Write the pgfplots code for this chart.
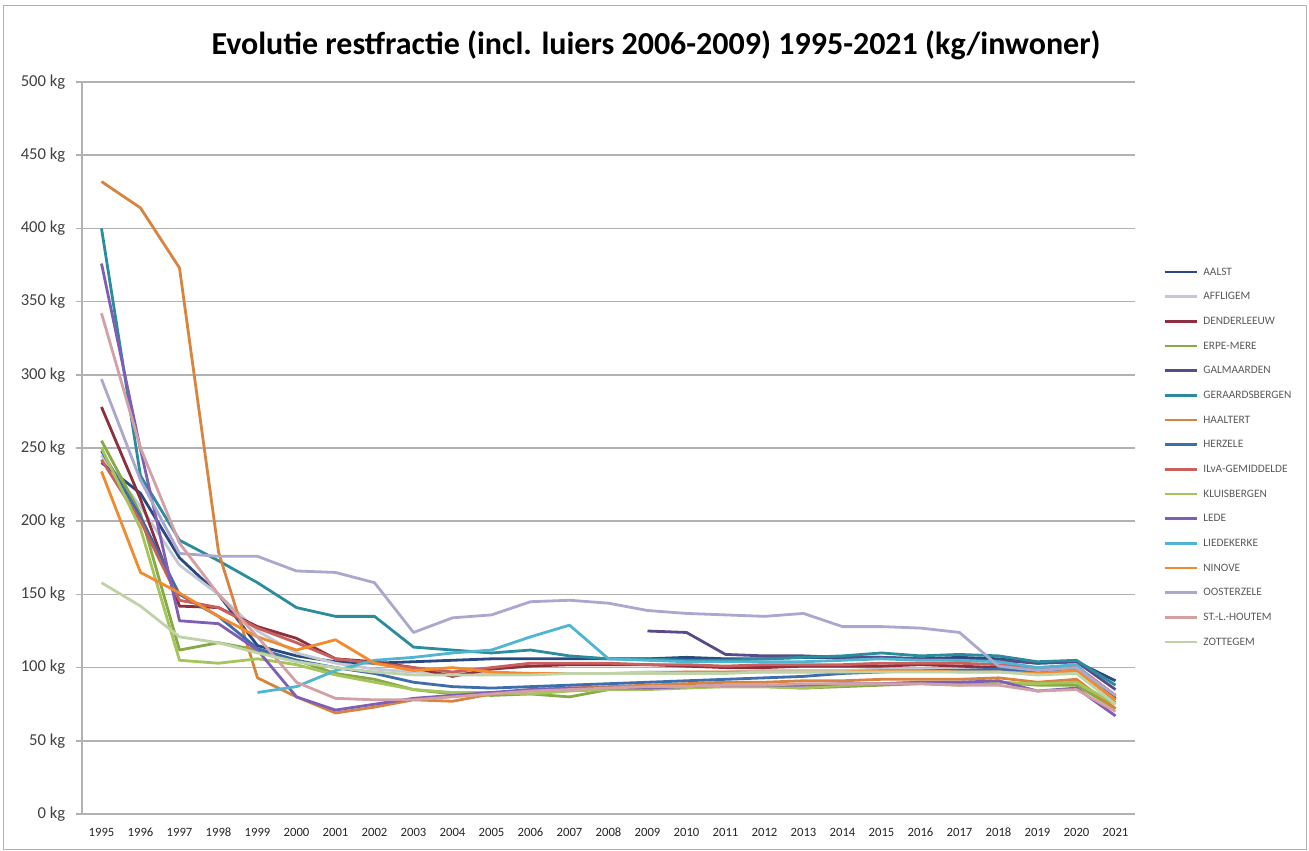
\documentclass[border=0pt]{standalone}
\usepackage{pgfplots}
\pgfplotsset{compat=1.18}
\usepackage{pgfplotstable}
\usepackage{fontspec}
\setmainfont{Carlito}

\definecolor{cA}{HTML}{2A4A7F}
\definecolor{cB}{HTML}{C3C8D2}
\definecolor{cC}{HTML}{8E2F40}
\definecolor{cD}{HTML}{86AA44}
\definecolor{cE}{HTML}{5B4A8A}
\definecolor{cF}{HTML}{2A8C9C}
\definecolor{cG}{HTML}{D8843E}
\definecolor{cH}{HTML}{3D6DAA}
\definecolor{cI}{HTML}{C9605C}
\definecolor{cJ}{HTML}{A6C45C}
\definecolor{cK}{HTML}{7E5FB5}
\definecolor{cL}{HTML}{4FB5D0}
\definecolor{cM}{HTML}{F28A2E}
\definecolor{cN}{HTML}{ABA8D0}
\definecolor{cO}{HTML}{D3A0A6}
\definecolor{cP}{HTML}{BFD2A8}

\pgfplotstableread{
year A B C D E F G H I J K L M N O P
1995 240 245 278 255 nan 400 432 248 242 250 376 nan 234 297 342 158
1996 219 210 215 205 nan 231 414 203 200 195 249 nan 165 228 250 142
1997 175 170 142 112 nan 187 373 150 146 105 132 nan 151 178 185 121
1998 150 150 141 117 nan 173 179 135 141 103 130 nan 135 176 150 117
1999 115 125 128 112 nan 158 93 113 127 106 112 83 121 176 121 110
2000 108 110 120 105 nan 141 80 105 117 102 80 87 112 166 90 104
2001 104 103 106 96 nan 135 69 100 106 95 71 98 119 165 79 100
2002 103 99 104 92 nan 135 73 96 103 90 75 105 103 158 78 97
2003 104 97 100 85 nan 114 78 90 100 85 79 107 98 124 78 95
2004 105 96 94 82 nan 112 77 87 97 83 81 110 100 134 80 95
2005 106 96 99 81 nan 110 82 86 100 83 83 112 97 136 82 95
2006 106 96 101 82 nan 112 85 87 103 82 85 121 96 145 84 95
2007 106 96 102 80 nan 108 86 88 103 84 86 129 96 146 85 96
2008 106 96 102 85 nan 106 87 89 103 85 86 106 96 144 86 96
2009 106 97 102 86 125 106 88 90 102 85 86 105 96 139 87 96
2010 107 97 101 87 124 105 89 91 102 86 87 104 97 137 87 96
2011 106 97 100 87 109 105 90 92 101 87 88 104 97 136 88 96
2012 106 98 100 87 108 106 90 93 102 87 88 104 97 135 88 97
2013 107 98 101 86 108 107 91 94 102 86 88 104 97 137 89 97
2014 107 98 101 87 107 108 91 96 102 88 89 105 97 128 89 97
2015 107 99 101 88 107 110 92 97 103 89 89 106 98 128 89 97
2016 106 99 102 89 106 108 92 98 103 90 90 105 98 127 89 97
2017 107 99 101 88 105 109 92 98 103 90 90 105 97 124 88 97
2018 106 98 100 90 105 108 93 99 102 90 91 104 97 101 88 97
2019 103 95 98 88 103 104 90 97 100 89 84 100 96 98 84 95
2020 104 98 100 88 104 105 92 98 101 90 86 102 98 100 85 96
2021 91 80 79 72 85 88 72 78 81 75 67 76 78 81 70 75
}\datatable

\begin{document}
\begin{tikzpicture}
\path[use as bounding box] (0,0) rectangle (981.75pt,637.5pt);
\draw[black!30, line width=0.75pt] (2.25pt,0.75pt) rectangle (979.5pt,633pt);
\node[font=\bfseries\fontsize{24}{28}\selectfont] at (492pt,603.75pt) {Evolutie restfractie (incl. luiers 2006-2009) 1995-2021 (kg/inwoner)};
\begin{axis}[
  at={(61.5pt,27pt)}, anchor=south west,
  width=789.75pt, height=549pt, scale only axis,
  xmin=1994.5, xmax=2021.5, ymin=0, ymax=500,
  xtick={1995,1996,1997,1998,1999,2000,2001,2002,2003,2004,2005,2006,2007,2008,2009,2010,2011,2012,2013,2014,2015,2016,2017,2018,2019,2020,2021},
  xticklabels={1995,1996,1997,1998,1999,2000,2001,2002,2003,2004,2005,2006,2007,2008,2009,2010,2011,2012,2013,2014,2015,2016,2017,2018,2019,2020,2021},
  ytick={0,50,100,150,200,250,300,350,400,450,500},
  yticklabels={0 kg,50 kg,100 kg,150 kg,200 kg,250 kg,300 kg,350 kg,400 kg,450 kg,500 kg},
  axis x line*=bottom, axis y line*=left,
  axis line style={black!30, line width=1.2pt, -},
  ymajorgrids, grid style={black!30, line width=1.2pt},
  tick align=outside, major tick length=4.5pt,
  ytick style={black!30, line width=1.2pt}, xtick style={draw=none},
  yticklabel style={font=\fontsize{12.5}{14}\selectfont, text=black!75, xshift=-4.5pt},
  xticklabel style={font=\fontsize{9.5}{11}\selectfont, text=black!85, yshift=-2.5pt},
  unbounded coords=jump,
  every axis plot/.append style={line width=2.1pt, line join=round},
  legend image code/.code={\draw[#1, line width=2.1pt] (0pt,0pt) -- (24pt,0pt);},
  legend cell align=left,
  legend style={at={(1.0266,0.4877)}, anchor=west, draw=none, fill=none, inner sep=0pt,
    font=\fontsize{8.5}{9}\selectfont, text=black!65, row sep=11pt,
    nodes={inner sep=0pt, text height=6pt, text depth=1.5pt},
    /tikz/every odd column/.append style={column sep=4pt}},
]
\addplot[cA] table[x=year,y=A]{\datatable};
\addlegendentry{AALST}
\addplot[cB] table[x=year,y=B]{\datatable};
\addlegendentry{AFFLIGEM}
\addplot[cC] table[x=year,y=C]{\datatable};
\addlegendentry{DENDERLEEUW}
\addplot[cD] table[x=year,y=D]{\datatable};
\addlegendentry{ERPE-MERE}
\addplot[cE] table[x=year,y=E]{\datatable};
\addlegendentry{GALMAARDEN}
\addplot[cF] table[x=year,y=F]{\datatable};
\addlegendentry{GERAARDSBERGEN}
\addplot[cG] table[x=year,y=G]{\datatable};
\addlegendentry{HAALTERT}
\addplot[cH] table[x=year,y=H]{\datatable};
\addlegendentry{HERZELE}
\addplot[cI] table[x=year,y=I]{\datatable};
\addlegendentry{ILvA-GEMIDDELDE}
\addplot[cJ] table[x=year,y=J]{\datatable};
\addlegendentry{KLUISBERGEN}
\addplot[cK] table[x=year,y=K]{\datatable};
\addlegendentry{LEDE}
\addplot[cL] table[x=year,y=L]{\datatable};
\addlegendentry{LIEDEKERKE}
\addplot[cM] table[x=year,y=M]{\datatable};
\addlegendentry{NINOVE}
\addplot[cN] table[x=year,y=N]{\datatable};
\addlegendentry{OOSTERZELE}
\addplot[cO] table[x=year,y=O]{\datatable};
\addlegendentry{ST.-L.-HOUTEM}
\addplot[cP] table[x=year,y=P]{\datatable};
\addlegendentry{ZOTTEGEM}
\end{axis}
\end{tikzpicture}
\end{document}
